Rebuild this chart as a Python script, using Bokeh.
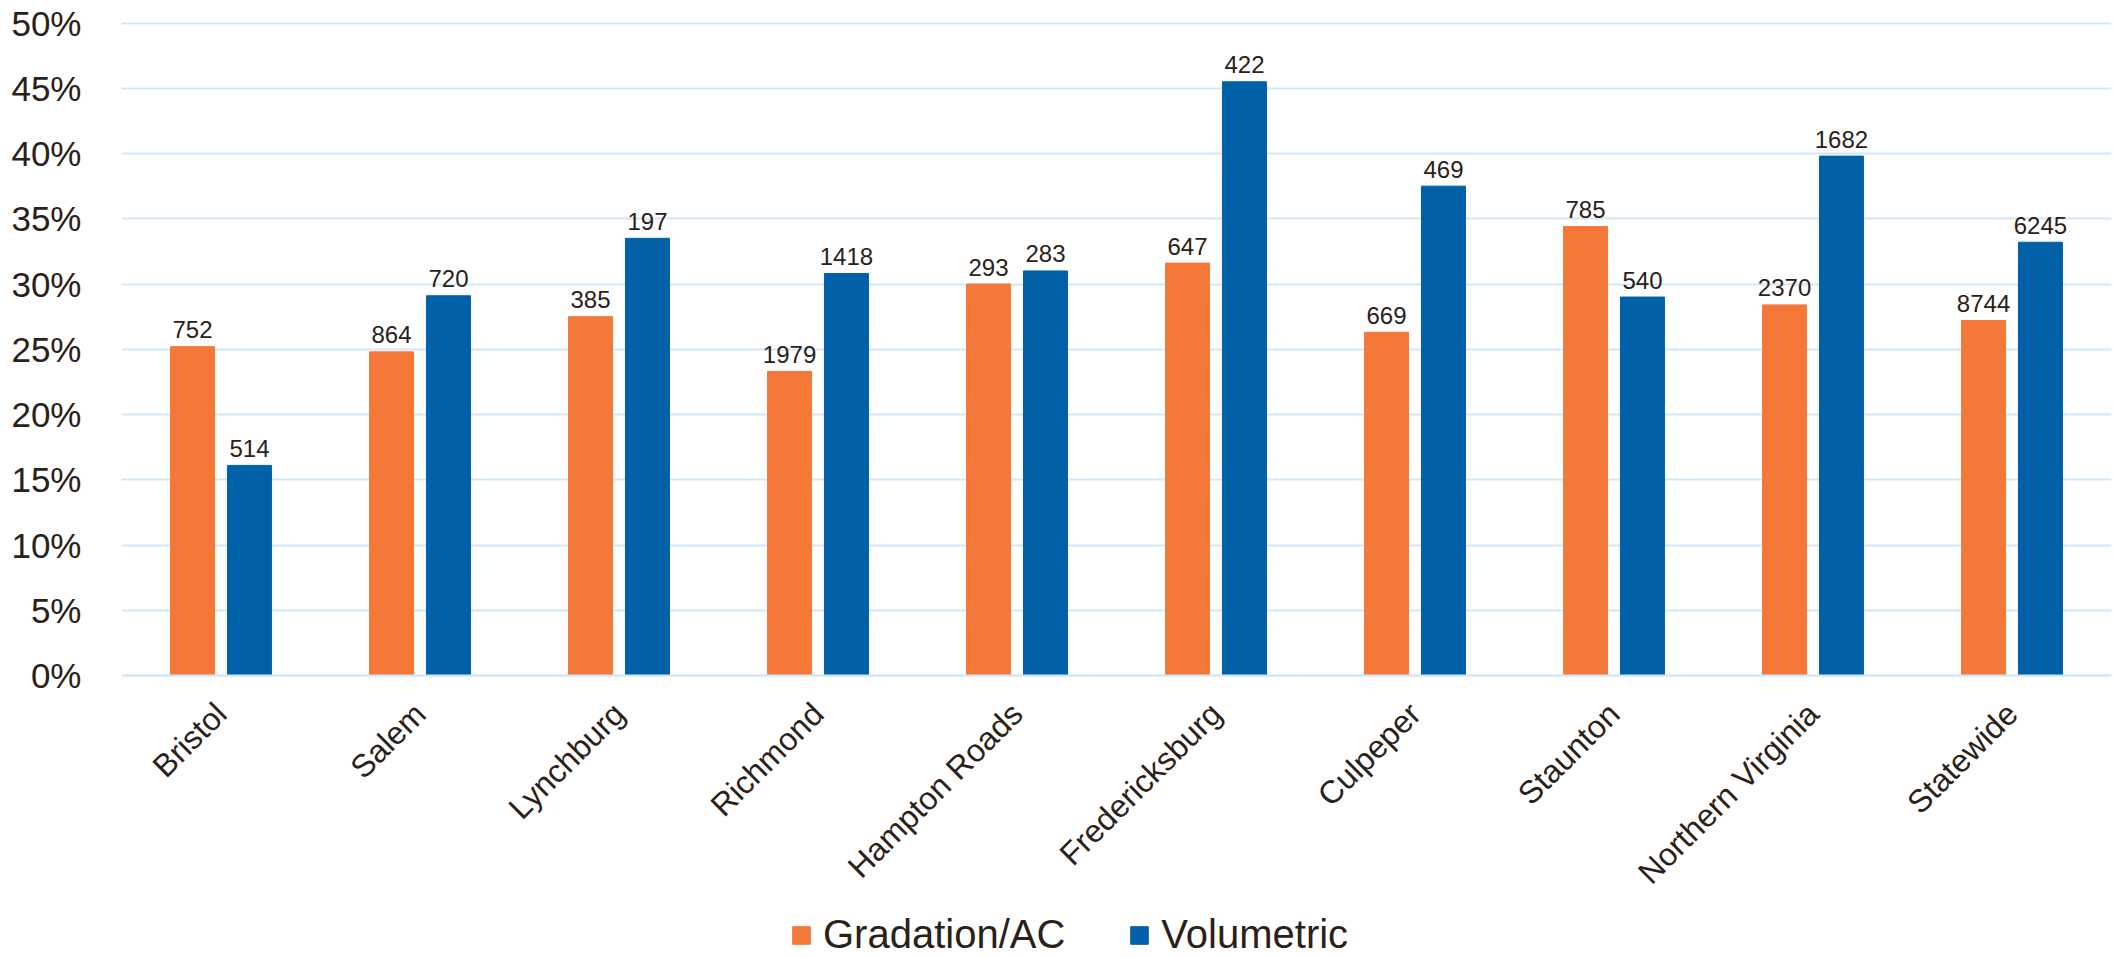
from bokeh.plotting import figure
from bokeh.models import (ColumnDataSource, FactorRange, Legend, LegendItem,
                          PrintfTickFormatter, FixedTicker, Range1d)
from bokeh.transform import dodge
from bokeh.core.properties import value
from bokeh.embed import file_html
from bokeh.resources import INLINE
import math

districts = ["Bristol", "Salem", "Lynchburg", "Richmond", "Hampton Roads",
             "Fredericksburg", "Culpeper", "Staunton", "Northern Virginia", "Statewide"]
gradation_pct = [25.2, 24.8, 27.5, 23.3, 30.0, 31.6, 26.3, 34.4, 28.4, 27.2]
volumetric_pct = [16.1, 29.1, 33.5, 30.8, 31.0, 45.5, 37.5, 29.0, 39.8, 33.2]
gradation_n = [752, 864, 385, 1979, 293, 647, 669, 785, 2370, 8744]
volumetric_n = [514, 720, 197, 1418, 283, 422, 469, 540, 1682, 6245]
y_ticks = [0, 5, 10, 15, 20, 25, 30, 35, 40, 45, 50]

ORANGE = "#F47838"
BLUE = "#0060A8"
GRID = "#D2E8FA"
TEXT = "#2A2118"
FONT = "Liberation Sans"

W, H = 2113, 958
TOP, ZERO_PX, FIFTY_PX = 21, 675, 22.5
scale = (ZERO_PX - FIFTY_PX) / 50.0
y_start = -(H - ZERO_PX) / scale
y_end = 50 + (FIFTY_PX - TOP) / scale

src = ColumnDataSource(dict(
    d=districts,
    g=gradation_pct, v=volumetric_pct,
    gn=[str(n) for n in gradation_n], vn=[str(n) for n in volumetric_n],
))

p = figure(x_range=FactorRange(*districts), y_range=Range1d(y_start, y_end),
           width=W, height=H, output_backend="svg", toolbar_location=None,
           min_border_left=121, min_border_right=2, min_border_top=TOP,
           min_border_bottom=0)
p.outline_line_color = None
p.background_fill_color = "white"

off = 0.143
bw = 0.221
rg = p.vbar(x=dodge("d", -off, range=p.x_range), top="g", bottom=0, width=bw,
            source=src, fill_color=ORANGE, line_color=ORANGE)
rv = p.vbar(x=dodge("d", off, range=p.x_range), top="v", bottom=0, width=bw,
            source=src, fill_color=BLUE, line_color=BLUE)

p.text(x=dodge("d", -off, range=p.x_range), y="g", text="gn", source=src,
       text_align="center", text_baseline="alphabetic", y_offset=-17,
       text_font=value(FONT), text_font_size="24px", text_color=TEXT)
p.text(x=dodge("d", off, range=p.x_range), y="v", text="vn", source=src,
       text_align="center", text_baseline="alphabetic", y_offset=-17,
       text_font=value(FONT), text_font_size="24px", text_color=TEXT)

# y axis
p.yaxis.ticker = FixedTicker(ticks=y_ticks)
p.yaxis.formatter = PrintfTickFormatter(format="%d%%")
p.yaxis.axis_line_color = None
p.yaxis.major_tick_line_color = None
p.yaxis.minor_tick_line_color = None
p.yaxis.major_label_standoff = 34
p.yaxis.major_label_text_font = FONT
p.yaxis.major_label_text_font_size = "35px"
p.yaxis.major_label_text_color = TEXT

# x axis pinned at 0%
p.xaxis.fixed_location = 0
p.xaxis.axis_line_color = GRID
p.xaxis.axis_line_width = 2
p.xaxis.major_tick_line_color = None
p.xaxis.minor_tick_line_color = None
p.xaxis.major_tick_out = 0
p.xaxis.major_tick_in = 0
p.xaxis.major_label_orientation = math.pi / 4
p.xaxis.major_label_standoff = 33
p.xaxis.major_label_text_font = FONT
p.xaxis.major_label_text_font_size = "32px"
p.xaxis.major_label_text_color = TEXT

p.xgrid.grid_line_color = None
p.ygrid.grid_line_color = GRID
p.ygrid.grid_line_width = 2
p.ygrid.ticker = FixedTicker(ticks=y_ticks)

legend = Legend(items=[LegendItem(label="Gradation/AC", renderers=[rg]),
                       LegendItem(label="Volumetric", renderers=[rv])],
                location=(669, 1), orientation="horizontal",
                glyph_width=22, glyph_height=22, label_standoff=11, spacing=63,
                padding=0, margin=0, border_line_color=None,
                background_fill_alpha=0,
                label_text_font=FONT,
                label_text_font_size="40px", label_text_color=TEXT)
p.add_layout(legend, "center")

open("out.html", "w").write(file_html(p, INLINE))
